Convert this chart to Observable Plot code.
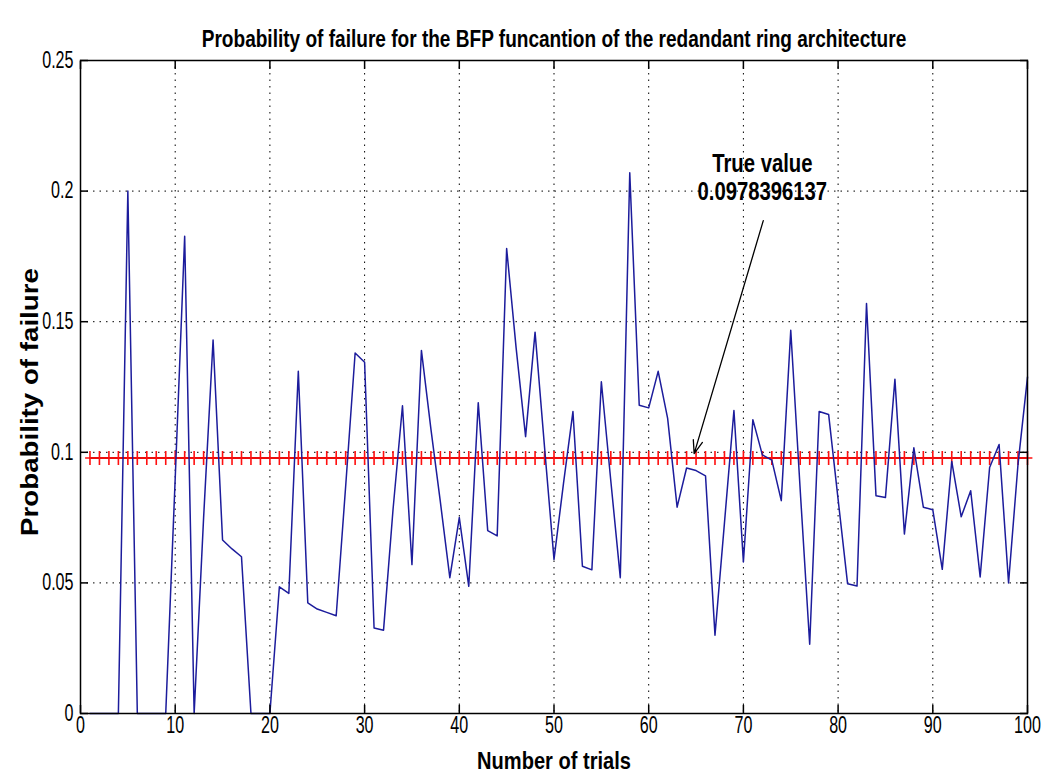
<!DOCTYPE html>
<html><head><meta charset="utf-8">
<script src="https://cdn.jsdelivr.net/npm/d3@7"></script>
<script src="https://cdn.jsdelivr.net/npm/@observablehq/plot@0.6"></script>
<style>body{margin:0;background:#fff} svg{display:block}</style>
</head><body><div id="chart"></div>
<script>
const trials = d3.range(1, 101);
const probability = [
  0, 0, 0, 0, 0.200, 0, 0, 0, 0, 0.090,
  0.1827, 0, 0.075, 0.143, 0.0664, 0.063, 0.060, 0, 0, 0,
  0.0485, 0.046, 0.131, 0.0424, 0.040, 0.0387, 0.0374, 0.087, 0.138, 0.1345,
  0.0327, 0.0319, 0.078, 0.1178, 0.057, 0.139, 0.109, 0.081, 0.052, 0.075,
  0.0487, 0.119, 0.070, 0.068, 0.178, 0.140, 0.106, 0.146, 0.102, 0.059,
  0.088, 0.1156, 0.0564, 0.055, 0.127, 0.089, 0.052, 0.207, 0.118, 0.117,
  0.131, 0.113, 0.079, 0.094, 0.093, 0.091, 0.030, 0.073, 0.116, 0.058,
  0.1125, 0.099, 0.097, 0.0815, 0.1467, 0.0855, 0.0265, 0.1156, 0.1145, 0.082,
  0.0497, 0.0488, 0.157, 0.0834, 0.0827, 0.128, 0.0687, 0.1017, 0.079, 0.078,
  0.0552, 0.0965, 0.0753, 0.0853, 0.0523, 0.0942, 0.103, 0.050, 0.0955, 0.1288
];
const trueValue = 0.0978396137;
const xTicks = [0, 10, 20, 30, 40, 50, 60, 70, 80, 90, 100];
const yTicks = [0, 0.05, 0.1, 0.15, 0.2, 0.25];
const titleText = "Probability of failure for the BFP funcantion of the redandant ring architecture";
const xLabel = "Number of trials";
const yLabel = "Probability of failure";
const annotationLines = ["True value", "0.0978396137"];
const annotationAnchor = [{x: 72, y: 0.2055}];
const annotationArrow = [{x1: 72.1, y1: 0.1887, x2: 64.8, y2: 0.0995}];

const series = trials.map((t, i) => ({trial: t, p: probability[i]}));
const plusSymbol = {
  draw(ctx, size) {
    const r = Math.sqrt(size / Math.PI);
    ctx.moveTo(-r * 0.7, 0); ctx.lineTo(r * 0.7, 0);
    ctx.moveTo(0, -r); ctx.lineTo(0, r);
  }
};
const sans = "'Liberation Sans', Arial, sans-serif";

const chart = Plot.plot({
  width: 1060, height: 783,
  marginLeft: 80, marginRight: 33, marginTop: 60, marginBottom: 70,
  style: {fontFamily: sans, fontSize: "23px", color: "black", background: "white"},
  x: {domain: [0, 100], ticks: xTicks},
  y: {domain: [0, 0.25], ticks: yTicks},
  marks: [
    Plot.gridX(xTicks, {stroke: "black", strokeOpacity: 1, strokeDasharray: "1.5,5"}),
    Plot.gridY(yTicks, {stroke: "black", strokeOpacity: 1, strokeDasharray: "1.5,5"}),
    Plot.ruleY([trueValue], {x1: 1, x2: 100, stroke: "#a80000", strokeWidth: 2}),
    Plot.dot(trials, {x: d => d, y: () => trueValue, symbol: plusSymbol, r: 7, stroke: "#ff1010", fill: "none", strokeWidth: 1.6}),
    Plot.lineY(series, {x: "trial", y: "p", stroke: "#1c1c9c", strokeWidth: 1.5}),
    Plot.frame({stroke: "black", strokeWidth: 1.5}),
    Plot.axisX(xTicks, {anchor: "bottom", tickSize: 0, tickPadding: 3, label: null, fontSize: 23}),
    Plot.axisX(xTicks, {anchor: "bottom", tickSize: -8, tickFormat: () => "", label: null, strokeWidth: 1.5}),
    Plot.axisX(xTicks, {anchor: "top", tickSize: -8, tickFormat: () => "", label: null, strokeWidth: 1.5}),
    Plot.axisY(yTicks, {anchor: "left", tickSize: 0, tickPadding: 7, tickFormat: d3.format("~g"), label: null, fontSize: 23}),
    Plot.axisY(yTicks, {anchor: "left", tickSize: -8, tickFormat: () => "", label: null, strokeWidth: 1.5}),
    Plot.axisY(yTicks, {anchor: "right", tickSize: -8, tickFormat: () => "", label: null, strokeWidth: 1.5}),
    Plot.arrow(annotationArrow, {x1: "x1", y1: "y1", x2: "x2", y2: "y2", stroke: "black", strokeWidth: 1.3, headLength: 16, headAngle: 40}),
    Plot.text(annotationAnchor, {x: "x", y: "y", text: () => annotationLines.join("\n"), fontSize: 26, fontWeight: "bold", lineHeight: 1.1}),
    Plot.text([titleText], {frameAnchor: "top", dy: -31, fontSize: 24, fontWeight: "bold"}),
    Plot.text([xLabel], {frameAnchor: "bottom", dy: 55, fontSize: 23, fontWeight: "bold"}),
    Plot.text([yLabel], {frameAnchor: "left", dx: -50, dy: 15, rotate: -90, textAnchor: "middle", fontSize: 23, fontWeight: "bold"})
  ]
});
document.getElementById("chart").appendChild(chart);

// Horizontally condensed lettering, as in the reference image (scale about each text's anchor)
function condense(el, k) {
  const t = el.getAttribute("transform") || "";
  el.setAttribute("transform", `${t} scale(${k},1)`.trim());
}
chart.querySelectorAll('g[aria-label="x-axis tick label"] text, g[aria-label="y-axis tick label"] text')
  .forEach(el => condense(el, 0.7));
chart.querySelectorAll("text").forEach(el => {
  const s = el.textContent;
  const L = el.getComputedTextLength();
  if (!L) return;
  if (s === titleText) condense(el, 705 / L);
  else if (s === xLabel) condense(el, 154 / L);
  else if (s === yLabel) condense(el, 268 / L);
  else if (s === annotationLines.join("")) condense(el, 0.78);
});
</script>
</body></html>
